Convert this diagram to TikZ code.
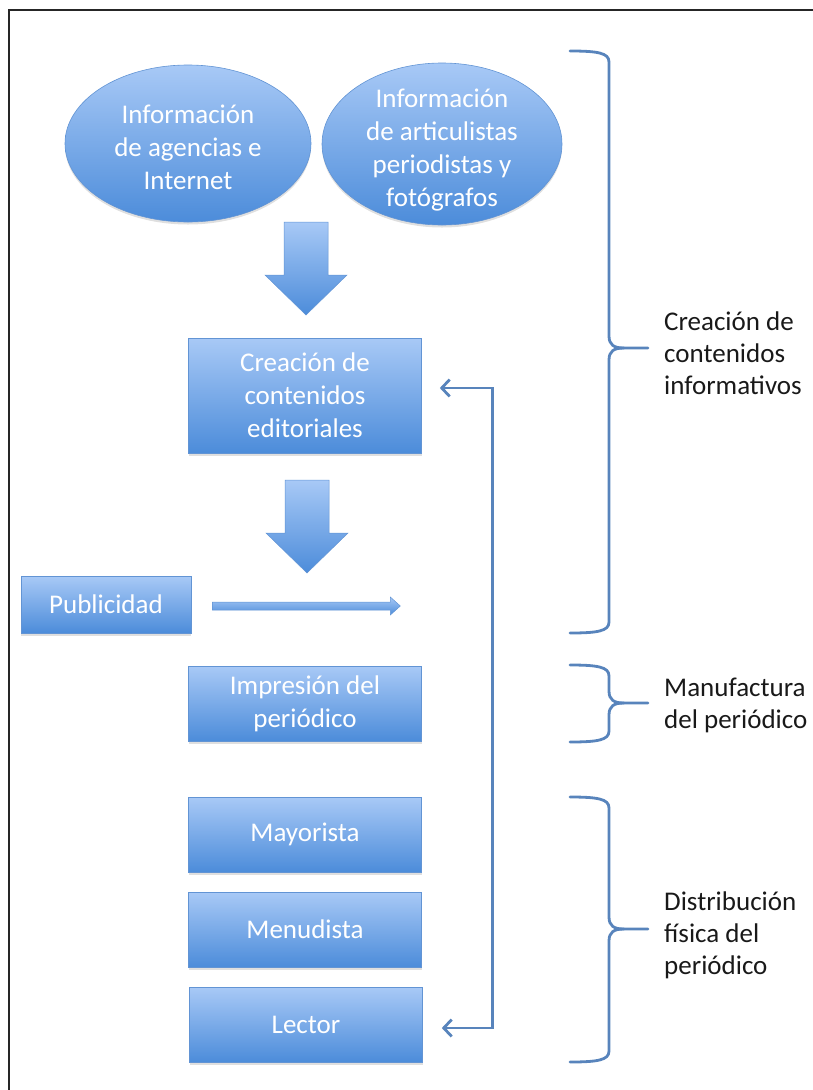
\documentclass[tikz,border=0pt]{standalone}
\usepackage{fontspec}
\setmainfont{Carlito}
\usetikzlibrary{shapes.geometric,arrows.meta,shadows}
\definecolor{btop}{RGB}{168,201,246}
\definecolor{bbot}{RGB}{76,140,218}
\definecolor{bedge}{RGB}{98,148,212}
\definecolor{brc}{RGB}{88,132,188}
\definecolor{lbl}{RGB}{25,25,25}
\tikzset{
  bx/.style={rectangle, top color=btop, bottom color=bbot, draw=bedge, line width=0.6pt,
    text=white, font=\fontsize{27}{33}\selectfont, align=center, inner sep=0pt,
    drop shadow={shadow xshift=0pt, shadow yshift=-2.5pt, opacity=0.25}},
  el/.style={ellipse, top color=btop, bottom color=bbot, draw=bedge, line width=0.6pt,
    inner sep=0pt, drop shadow={shadow xshift=0pt, shadow yshift=-2.5pt, opacity=0.25}},
  eltxt/.style={text=white, font=\fontsize{27}{33}\selectfont, align=center, inner sep=0pt},
  blk/.style={top color=btop, bottom color=bbot, draw=bedge, line width=0.5pt},
  brcline/.style={draw=brc, line width=2.8pt, line cap=round},
  fb/.style={draw=brc, line width=2.8pt,
    {Straight Barb[length=8pt,width=17pt]}-{Straight Barb[length=8pt,width=17pt]}},
  lab/.style={anchor=west, align=left, text=lbl, font=\fontsize{27}{32}\selectfont, inner sep=0pt}
}
\newcommand\mkbrace[3]{%
  \draw[brcline] (570,#1) .. controls (598,#1) and (609,#1+2) .. (609,#1+11)
    -- (609,#2-12) .. controls (609,#2-3) and (614,#2) .. (624,#2) -- (648,#2);
  \draw[brcline] (624,#2) .. controls (614,#2) and (609,#2+3) .. (609,#2+12)
    -- (609,#3-11) .. controls (609,#3-2) and (598,#3) .. (570,#3);
}
\begin{document}
\begin{tikzpicture}[x=1pt,y=-1pt]
\useasboundingbox (0,0) rectangle (813,1090);
% frame
\draw[line width=2.6pt, black!85] (813,10) -- (9,10) -- (9,1090);

% ellipses
\node[el, minimum width=246pt, minimum height=157pt] (e1) at (188,143.5) {};
\node[eltxt] (t1) at (188,147) {Información\\de agencias e\\Internet};
\node[el, minimum width=240pt, minimum height=162pt] (e2) at (442,144) {};
\node[eltxt] (t2) at (442,150) {Información\\de articulistas\\periodistas y\\fotógrafos};

% block arrow 1
\path[blk] (284,222) -- (328,222) -- (328,275) -- (347,275) -- (306,315) -- (265,275) -- (284,275) -- cycle;

% boxes
\node[bx, minimum width=233pt, minimum height=115pt] (crea) at (305,395.5) {Creación de\\contenidos\\editoriales};

% block arrow 2
\path[blk] (285,480) -- (329,480) -- (329,533) -- (348,533) -- (307,573) -- (266,533) -- (285,533) -- cycle;

\node[bx, minimum width=170pt, minimum height=57pt] (pub) at (106,604.5) {Publicidad};
% thin arrow from Publicidad
\path[blk] (pub.east) ++(21pt,2.5pt) coordinate (pa)
  (pa) -- ++(178pt,0pt) -- ++(0pt,5pt) -- ++(10pt,-9pt) -- ++(-10pt,-9pt) -- ++(0pt,5pt) -- ++(-178pt,0pt) -- cycle;

\node[bx, minimum width=233pt, minimum height=75pt] (imp) at (305,703.5) {Impresión del\\periódico};
\node[bx, minimum width=233pt, minimum height=75pt] (may) at (305,834.5) {Mayorista};
\node[bx, minimum width=233pt, minimum height=75pt] (men) at (305,929.5) {Menudista};
\node[bx, minimum width=233pt, minimum height=75pt] (lec) at (306,1024.5) {Lector};

% feedback connector
\coordinate (c1) at ([xshift=18pt,yshift=7.5pt]crea.east);
\coordinate (c2) at ([xshift=19pt,yshift=-3.5pt]lec.east);
\draw[fb] (c1) -- ++(53pt,0pt) |- (c2);

% braces
\mkbrace{51}{348}{633}
\mkbrace{665}{703}{742}
\mkbrace{797}{929}{1062}

% brace labels
\node[lab] (l1) at (664,353) {Creación de\\contenidos\\informativos};
\node[lab] (l2) at (664,705) {Manufactura\\del periódico};
\node[lab] (l3) at (664,935) {Distribución\\física del\\periódico};
\end{tikzpicture}
\end{document}
